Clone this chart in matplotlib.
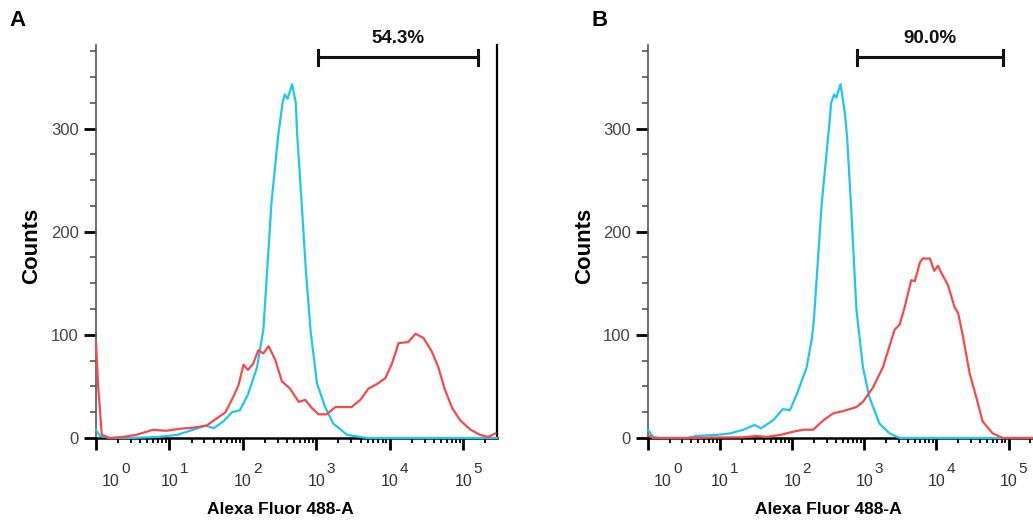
import matplotlib
matplotlib.use("Agg")
import matplotlib.pyplot as plt
from matplotlib.ticker import FixedLocator, NullFormatter, MultipleLocator
from matplotlib.transforms import ScaledTranslation, blended_transform_factory

plt.rcParams["font.family"] = ["Liberation Sans", "DejaVu Sans"]

RED = "#f54a4a"
CYAN = "#1ec6f2"

# Panel A: stained sample (red) and control (cyan)
a_red_x = [1.0, 1.07, 1.2, 1.55, 2.3, 3.5, 6, 9, 14, 21, 32, 44, 58, 74, 87,
           102, 117, 138, 162, 190, 224, 275, 339, 437, 575, 708, 871, 1070,
           1380, 1820, 2340, 3020, 3980, 5130, 6610, 8710, 10700, 13200,
           17800, 22400, 28800, 37200, 45700, 56200, 70800, 91200, 126000,
           170000, 219000, 275000]
a_red_y = [93, 50, 3, 0, 1, 3, 8, 7, 9, 10, 12, 19, 25, 40, 51, 71, 66, 72, 85,
           82, 89, 76, 55, 48, 35, 37, 29, 23, 23, 30, 30, 30, 37, 48, 52, 58,
           72, 92, 93, 101, 97, 84, 69, 47, 29, 17, 8, 3, 1, 4.5]
a_cyan_x = [1.0, 1.13, 1.55, 2.9, 6.8, 12.6, 21, 31, 40, 54, 71, 91, 117, 155,
            190, 245, 302, 347, 372, 407, 468, 525, 550, 631, 724, 832, 1020,
            1320, 1700, 2630, 4900, 288000]
a_cyan_y = [8, 2, 0, 0, 1, 3, 8, 12, 9.5, 16, 25, 27, 42, 68, 105, 228, 293,
            325, 333, 329, 343, 325, 293, 228, 160, 105, 53, 30, 14, 3, 0, 0]

# Panel B
b_red_x = [1.0, 1.17, 3.8, 8.9, 21, 32, 44, 68, 102, 141, 195, 269, 372, 501,
           776, 955, 1320, 1820, 2630, 3090, 3630, 4470, 5010, 5890, 6460,
           8130, 9330, 10500, 11700, 14500, 17800, 20000, 23400, 28800, 35500,
           43700, 60300, 83200, 282000]
b_red_y = [3, 0, 0, 0.5, 0.7, 2, 1, 3, 6, 8, 8, 17, 24, 26, 30, 35, 49, 69, 105,
           110, 127, 153, 152, 170, 174, 174, 162, 167, 160, 148, 127, 121, 98,
           63, 40, 16, 4.5, 0, 0]
b_cyan_x = [1.0, 1.17, 1.48, 3.5, 4.7, 8.9, 13.8, 21, 30, 37, 55, 74, 93, 115,
            158, 186, 200, 257, 316, 347, 380, 407, 468, 537, 575, 661, 776,
            955, 1170, 1620, 2240, 3090, 282000]
b_cyan_y = [8, 1, 0, 0, 2, 3, 4.5, 8, 12.6, 9.4, 17.5, 28, 27, 42, 68, 95, 115,
            228, 293, 325, 333, 330, 343, 315, 293, 220, 125, 69, 40, 14, 4.5,
            0, 0]

# gates: (low, high, label)
gate_a = (1070, 160000, "54.3%")
gate_b = (780, 83000, "90.0%")

decades = [0, 1, 2, 3, 4, 5]
count_ticks = [0, 100, 200, 300]


def px(fig, dx, dy):
    """Offset transform in screen pixels."""
    return ScaledTranslation(dx / fig.dpi, dy / fig.dpi, fig.dpi_scale_trans)


def decade_labels(ax):
    """Write 10^k labels with a large superscript, FlowJo style."""
    fig = ax.figure
    trans = blended_transform_factory(ax.transData, ax.transAxes)
    for d in decades:
        extra = 15 if d == 0 else 0
        ax.text(10.0 ** d, 0, "10", fontsize=11.5, color="#333333",
                ha="center", va="center",
                transform=trans + px(fig, extra, -43))
        ax.text(10.0 ** d, 0, str(d), fontsize=11, color="#333333",
                ha="left", va="center",
                transform=trans + px(fig, extra + 10, -31))


def draw_panel(ax, red, cyan, gate, xmax, right_spine):
    """Draw one histogram panel."""
    ax.plot(cyan[0], cyan[1], color=CYAN, lw=1.6, zorder=3, clip_on=False)
    ax.plot(red[0], red[1], color=RED, lw=1.6, zorder=4, clip_on=False)

    ax.set_xscale("log")
    ax.set_xlim(1, xmax)
    ax.set_ylim(0, 381)

    ax.xaxis.set_major_locator(FixedLocator([10.0 ** d for d in decades]))
    ax.xaxis.set_major_formatter(NullFormatter())
    minor = [k * 10.0 ** d for d in decades for k in range(2, 10)]
    ax.xaxis.set_minor_locator(FixedLocator(minor))
    ax.xaxis.set_minor_formatter(NullFormatter())
    decade_labels(ax)

    ax.yaxis.set_major_locator(FixedLocator(count_ticks))
    ax.yaxis.set_minor_locator(MultipleLocator(25))

    ax.tick_params(axis="x", which="major", length=8.5, width=2)
    ax.tick_params(axis="x", which="minor", length=3.6, width=1.3)
    ax.tick_params(axis="y", which="major", length=8.5, width=2, pad=4,
                   labelsize=12, labelcolor="#444444")
    ax.tick_params(axis="y", which="minor", length=4.3, width=1.2, color="#555555")

    ax.spines["top"].set_visible(False)
    ax.spines["right"].set_visible(right_spine)
    ax.spines["right"].set_linewidth(1.6)
    ax.spines["bottom"].set_linewidth(1.8)
    ax.spines["left"].set_linewidth(1.2)
    ax.spines["left"].set_color("#555555")

    ax.set_xlabel("Alexa Fluor 488-A", fontsize=12.5, fontweight="bold")
    ax.xaxis.set_label_coords(0.46, -0.163)
    ax.set_ylabel("Counts", fontsize=16, fontweight="bold")
    ax.yaxis.set_label_coords(-0.135, 0.49)

    lo, hi, text = gate
    ax.plot([lo, hi], [369, 369], color="#111111", lw=2.2, clip_on=False)
    for gx in (lo, hi):
        ax.plot([gx, gx], [362, 376], color="#111111", lw=2.2, clip_on=False)
    ax.text((lo * hi) ** 0.5, 387, text, ha="center", va="center",
            fontsize=13.5, fontweight="bold", color="#111111", clip_on=False)


fig = plt.figure(figsize=(10.33, 5.21), dpi=100)
ax_a = fig.add_axes([96 / 1033, 1 - 438 / 521, 401 / 1033, 393 / 521])
ax_b = fig.add_axes([648 / 1033, 1 - 438 / 521, 393 / 1033, 393 / 521])

draw_panel(ax_a, (a_red_x, a_red_y), (a_cyan_x, a_cyan_y), gate_a, 10 ** 5.46, True)
draw_panel(ax_b, (b_red_x, b_red_y), (b_cyan_x, b_cyan_y), gate_b, 10 ** 5.45, False)

fig.text(18 / 1033, 1 - 20 / 521, "A", fontsize=16, fontweight="bold",
         ha="center", va="center")
fig.text(600 / 1033, 1 - 20 / 521, "B", fontsize=16, fontweight="bold",
         ha="center", va="center")

fig.savefig("out.png", dpi=100)
